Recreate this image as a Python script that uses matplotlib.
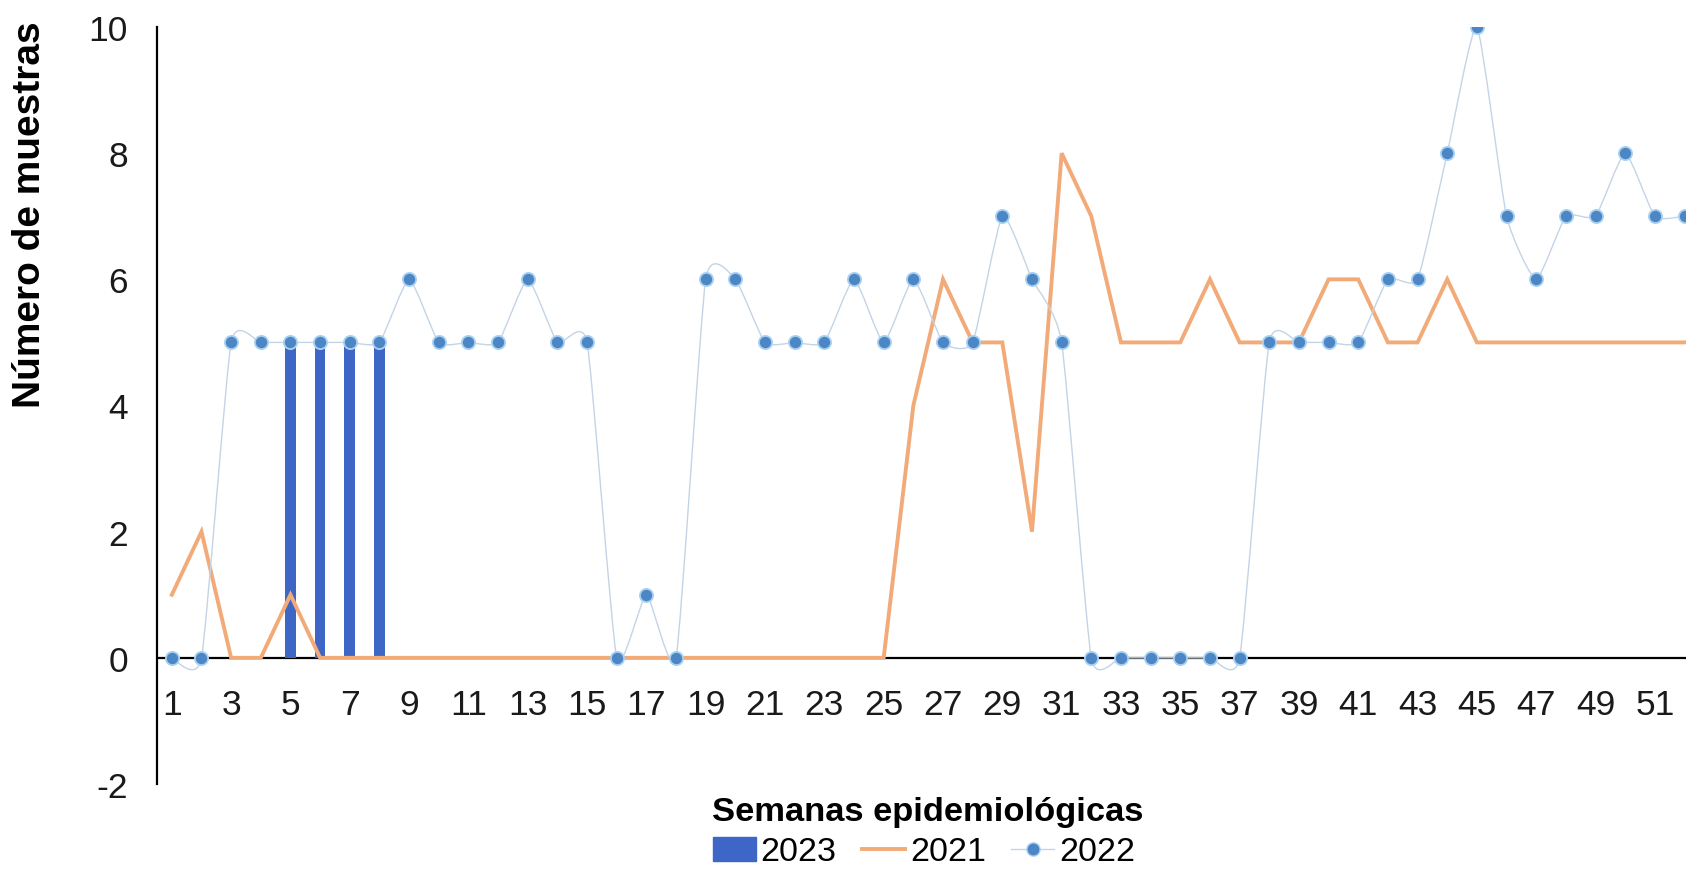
import numpy as np
import matplotlib
matplotlib.use("Agg")
from matplotlib import pyplot as plt
from matplotlib.path import Path
from matplotlib.patches import PathPatch, Patch
from matplotlib.lines import Line2D

plt.rcParams['font.family'] = ['Liberation Sans', 'DejaVu Sans']

weeks = list(range(1, 53))

cases_2021 = [1, 2, 0, 0, 1, 0, 0, 0, 0, 0,
              0, 0, 0, 0, 0, 0, 0, 0, 0, 0,
              0, 0, 0, 0, 0, 4, 6, 5, 5, 2,
              8, 7, 5, 5, 5, 6, 5, 5, 5, 6,
              6, 5, 5, 6, 5, 5, 5, 5, 5, 5,
              5, 5]

cases_2022 = [0, 0, 5, 5, 5, 5, 5, 5, 6, 5,
              5, 5, 6, 5, 5, 0, 1, 0, 6, 6,
              5, 5, 5, 6, 5, 6, 5, 5, 7, 6,
              5, 0, 0, 0, 0, 0, 0, 5, 5, 5,
              5, 6, 6, 8, 10, 7, 6, 7, 7, 8,
              7, 7]

weeks_2023 = [5, 6, 7, 8]
cases_2023 = [5, 5, 5, 5]

tick_weeks = list(range(1, 52, 2))
y_ticks = [-2, 0, 2, 4, 6, 8, 10]

c_bar = '#3d66c6'
c_2021 = '#f2aa78'
c_2022_line = '#c3d4e6'
c_2022_dot = '#4d86c4'
c_2022_edge = '#a9d2f2'


def smooth_path(xs, ys, k=0.085):
    # smoothed line like Excel's: cubic Bezier through every point
    pts = np.column_stack([xs, ys]).astype(float)
    n = len(pts)
    verts = [pts[0]]
    codes = [Path.MOVETO]
    for i in range(n - 1):
        p0 = pts[i - 1] if i > 0 else pts[i]
        p1 = pts[i]
        p2 = pts[i + 1]
        p3 = pts[i + 2] if i + 2 < n else pts[i + 1]
        c1 = p1 + (p2 - p0) * k
        c2 = p2 - (p3 - p1) * k
        verts += [c1, c2, p2]
        codes += [Path.CURVE4] * 3
    return Path(verts, codes)


fig = plt.figure(figsize=(16.86, 8.70), dpi=100)
ax = fig.add_axes([157 / 1686, 85 / 870, 1 - 157 / 1686, (785 - 28) / 870])

ax.bar(weeks_2023, cases_2023, width=0.36, color=c_bar, zorder=2)
ax.axhline(0, color='black', lw=1.6, zorder=1.5)
ax.plot(weeks, cases_2021, color=c_2021, lw=2.8, zorder=3, solid_joinstyle='miter')
ax.add_patch(PathPatch(smooth_path(weeks, cases_2022), fill=False,
                       edgecolor=c_2022_line, lw=1.0, zorder=4))
ax.plot(weeks, cases_2022, ls='none', marker='o', ms=9.5, mfc=c_2022_dot,
        mec=c_2022_edge, mew=1.3, zorder=5)

ax.set_xlim(0.5, 52.05)
ax.set_ylim(-2, 10)
ax.set_yticks(y_ticks)
ax.set_yticklabels([str(v) for v in y_ticks])
ax.set_xticks(tick_weeks)
ax.set_xticklabels([str(w) for w in tick_weeks])

for s in ['top', 'right']:
    ax.spines[s].set_visible(False)
ax.spines['bottom'].set_visible(False)
ax.spines['left'].set_linewidth(1.6)
ax.tick_params(axis='both', length=0, labelsize=25.5, colors='#1a1a1a')
ax.tick_params(axis='y', pad=21)
ax.xaxis.set_ticks_position('bottom')
ax.spines['bottom'].set_position(('data', 0))
ax.tick_params(axis='x', pad=22)

fig.text(30 / 1686, 1 - 215 / 870, 'Número de muestras', rotation=90,
         ha='center', va='center', fontsize=28, fontweight='bold')
fig.text(928 / 1686, 1 - 813 / 870, 'Semanas epidemiológicas',
         ha='center', va='center', fontsize=24.8, fontweight='bold')

handles = [Patch(color=c_bar),
           Line2D([], [], color=c_2021, lw=2.8),
           Line2D([], [], color=c_2022_line, lw=1.0, marker='o', ms=9.5,
                  mfc=c_2022_dot, mec=c_2022_edge)]
fig.legend(handles, ['2023', '2021', '2022'], loc='center',
           bbox_to_anchor=(924 / 1686, 1 - 853 / 870), ncol=3, frameon=False,
           fontsize=24.5, handlelength=1.25, handletextpad=0.15, columnspacing=0.75,
           borderpad=0, labelspacing=0)

plt.savefig('out.png', dpi=100)
